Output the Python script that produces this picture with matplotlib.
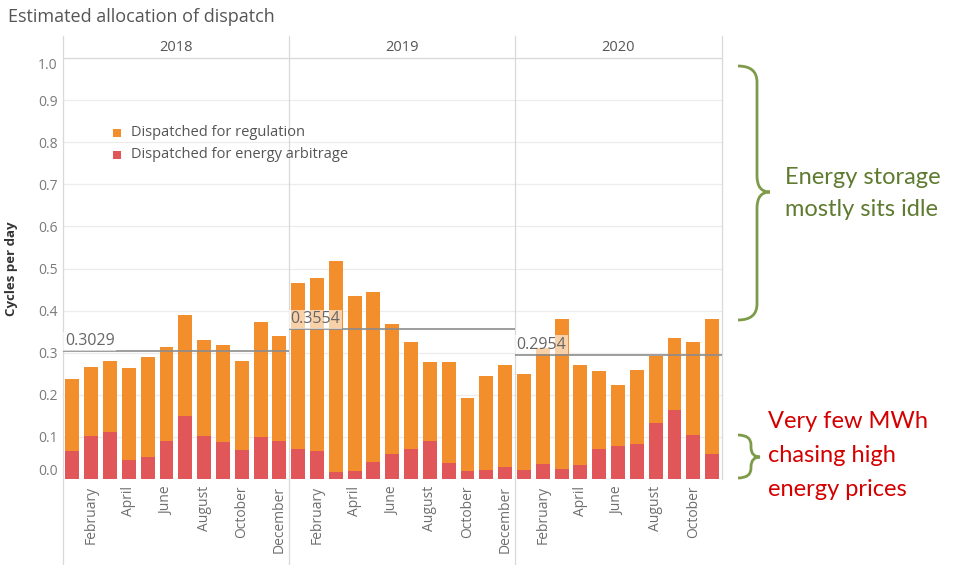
# -*- coding: utf-8 -*-
# Estimated allocation of dispatch : barres empilees par mois (2018-2020),
# moyenne annuelle en ligne de reference, accolades d'annotation a droite.

import numpy as np
import matplotlib
matplotlib.use("Agg")
import matplotlib.pyplot as plt
from matplotlib.path import Path
from matplotlib.patches import PathPatch, Rectangle
from matplotlib.transforms import blended_transform_factory


# =============================================================================
# Donnees
# =============================================================================

annees = ["2018", "2019", "2020"]
nb_mois = [12, 12, 11]

noms_mois = ["January", "February", "March", "April", "May", "June", "July",
             "August", "September", "October", "November", "December"]

# total (cycles / jour) par mois
total_2018 = [0.238, 0.265, 0.281, 0.263, 0.289, 0.314, 0.389, 0.330, 0.318, 0.281, 0.372, 0.340]
total_2019 = [0.466, 0.478, 0.517, 0.434, 0.444, 0.367, 0.325, 0.277, 0.279, 0.192, 0.244, 0.271]
total_2020 = [0.250, 0.311, 0.379, 0.271, 0.256, 0.224, 0.258, 0.291, 0.335, 0.325, 0.379]

# part energy arbitrage
arbitrage_2018 = [0.067, 0.103, 0.111, 0.046, 0.052, 0.090, 0.150, 0.101, 0.088, 0.069, 0.099, 0.090]
arbitrage_2019 = [0.071, 0.067, 0.017, 0.020, 0.041, 0.060, 0.071, 0.091, 0.037, 0.020, 0.021, 0.029]
arbitrage_2020 = [0.021, 0.035, 0.023, 0.033, 0.072, 0.079, 0.083, 0.133, 0.163, 0.105, 0.059]

moyennes = [0.3029, 0.3554, 0.2954]

label_regulation = "Dispatched for regulation"
label_arbitrage = "Dispatched for energy arbitrage"


# =============================================================================
# Mise en forme
# =============================================================================

W, H = 956, 565


def fx(px):
    return px / W


def fy(py):
    return 1 - py / H


orange = "#F28E2B"
rouge = "#E15759"
gris_txt = "#6e6e6e"
gris_ligne = "#d9d9d9"

plt.rcParams["font.family"] = ["Open Sans", "DejaVu Sans"]

total = np.array(total_2018 + total_2019 + total_2020)
arbitrage = np.array(arbitrage_2018 + arbitrage_2019 + arbitrage_2020)
regulation = total - arbitrage
mois = [noms_mois[i] for n in nb_mois for i in range(n)]
x = np.arange(len(total))

bornes = np.concatenate([[-0.5], np.cumsum(nb_mois) - 0.5])

fig = plt.figure(figsize=(W / 100, H / 100), dpi=100)
ax = fig.add_axes([fx(63), fy(479), fx(721.5) - fx(63), fy(58) - fy(479)])

ax.bar(x, arbitrage, width=0.74, color=rouge, zorder=2)
ax.bar(x, regulation, bottom=arbitrage, width=0.74, color=orange, zorder=2)

ax.set_xlim(-0.5, len(total) - 0.5)
ax.set_ylim(0, 1.0)
ax.set_yticks(np.arange(0, 1.01, 0.1))
ax.set_yticklabels([f"{v:.1f}" for v in np.arange(0, 1.01, 0.1)])
ax.yaxis.grid(True, color="#ececec", lw=0.9)
ax.set_axisbelow(True)
for s in ax.spines.values():
    s.set_visible(False)
ax.tick_params(length=0, labelsize=10, labelcolor="#7a7a7a")
ax.tick_params(axis="y", pad=4)
tl = ax.get_yticklabels()
tl[0].set_verticalalignment("bottom")
tl[-1].set_verticalalignment("top")

ax.set_xticks(x[1::2])
ax.set_xticklabels([mois[i] for i in x[1::2]], rotation=90, va="top", ha="center",
                   fontsize=10, color=gris_txt)
ax.tick_params(axis="x", pad=5)

ax.set_ylabel("Cycles per day", fontsize=9.5, fontweight="bold", color="#333333")
ax.yaxis.set_label_coords((18 - 63) / 658.5, 0.5)

trans = blended_transform_factory(ax.transData, ax.transAxes)
for b in bornes[:-1]:
    ax.plot([b, b], [-0.205, 1.052], transform=trans, color=gris_ligne, lw=0.9, clip_on=False)
ax.plot([bornes[-1], bornes[-1]], [0, 1.052], transform=trans, color=gris_ligne, lw=0.9, clip_on=False)
ax.plot([bornes[0], bornes[-1]], [1, 1], transform=trans, color=gris_ligne, lw=0.9, clip_on=False)

# en-tetes annees, lignes de moyenne
for k, an in enumerate(annees):
    lo, hi = bornes[k], bornes[k + 1]
    ax.text((lo + hi) / 2, 1.026, an, transform=trans, ha="center", va="center",
            fontsize=10.5, color="#555555")
    ax.hlines(moyennes[k], lo, hi, color="#8c8c8c", lw=1.2, zorder=3)
    ax.text(lo + 0.1, moyennes[k] + 0.005, f"{moyennes[k]:.4f}", fontsize=11.5, color="#666666",
            va="bottom", ha="left", zorder=4,
            bbox=dict(facecolor="white", alpha=0.6, edgecolor="none", pad=1.0))

# legende
for j, (lab, c) in enumerate([(label_regulation, orange), (label_arbitrage, rouge)]):
    yc = 133 + 22 * j
    fig.patches.append(Rectangle((fx(113), fy(yc + 4)), 8 / W, 8 / H, transform=fig.transFigure,
                                 facecolor=c, edgecolor="none"))
    fig.text(fx(131), fy(yc), lab, fontsize=10.5, color="#555555", va="center", ha="left")

# titre
fig.text(fx(8), fy(17), "Estimated allocation of dispatch", fontsize=13, color="#555555",
         va="center", ha="left")


# =============================================================================
# Accolades et annotations
# =============================================================================

def accolade(x0, xs, xtip, yt, yb, ymid, r, couleur):
    pts = [
        (x0, yt), (xs, yt), (xs, yt + r),
        (xs, ymid - r), (xs, ymid), (xtip, ymid),
        (xs, ymid), (xs, ymid + r),
        (xs, yb - r), (xs, yb), (x0, yb),
    ]
    codes = [Path.MOVETO, Path.CURVE3, Path.CURVE3,
             Path.LINETO, Path.CURVE3, Path.CURVE3,
             Path.CURVE3, Path.CURVE3,
             Path.LINETO, Path.CURVE3, Path.CURVE3]
    pts = [(fx(a), fy(b)) for a, b in pts]
    fig.patches.append(PathPatch(Path(pts, codes), transform=fig.transFigure, fill=False,
                                 edgecolor=couleur, lw=2))


vert_accolade = "#7d9b48"
accolade(738, 757, 770, 66, 320, 192, 16, vert_accolade)
accolade(738, 751, 760, 435, 478, 457, 10, vert_accolade)

police_annot = ["Lato", "DejaVu Sans"]
fig.text(fx(785), fy(178), "Energy storage", fontsize=17, color="#5e7b30", va="center",
         ha="left", family=police_annot)
fig.text(fx(785), fy(209), "mostly sits idle", fontsize=17, color="#5e7b30", va="center",
         ha="left", family=police_annot)

for j, ligne in enumerate(["Very few MWh", "chasing high", "energy prices"]):
    fig.text(fx(768), fy(421 + 34 * j), ligne, fontsize=17, color="#d40000", va="center",
             ha="left", family=police_annot)

fig.savefig("out.png", dpi=100)
